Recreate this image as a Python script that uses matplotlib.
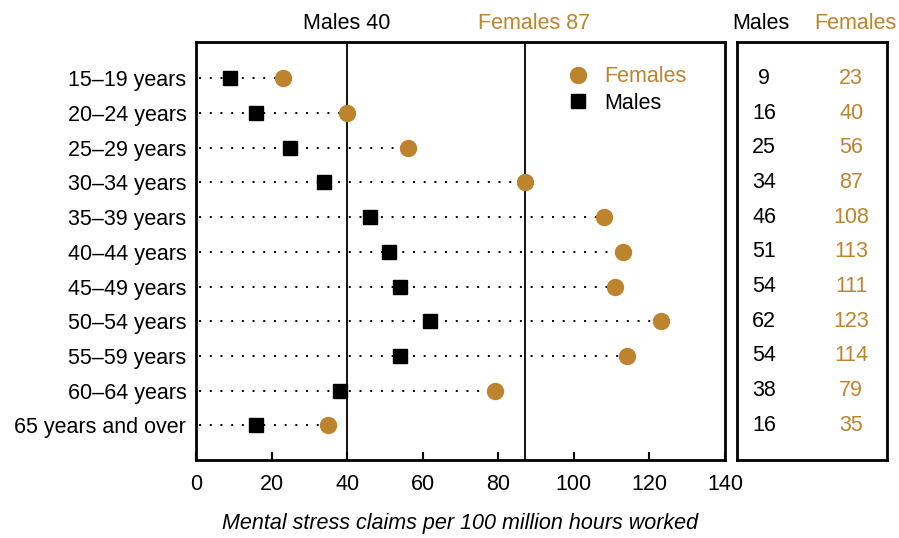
import matplotlib.pyplot as plt

plt.rcParams['font.family'] = ['Liberation Sans', 'DejaVu Sans']

# data
ages = ['15–19 years', '20–24 years', '25–29 years', '30–34 years', '35–39 years',
        '40–44 years', '45–49 years', '50–54 years', '55–59 years', '60–64 years',
        '65 years and over']
males = [9, 16, 25, 34, 46, 51, 54, 62, 54, 38, 16]
females = [23, 40, 56, 87, 108, 113, 111, 123, 114, 79, 35]
males_avg = 40
females_avg = 87

gold = '#BD832D'
fs = 15.5

fig = plt.figure(figsize=(8.99, 5.38), dpi=100)
ax = fig.add_axes([0.218, 0.145, 0.5885, 0.777])
tab = fig.add_axes([0.820, 0.145, 0.167, 0.777])

y = list(range(len(ages)))

# dotted guide lines from zero to the larger value
for i in y:
    ax.plot([0, max(males[i], females[i])], [i, i], color='black',
            linestyle=(3.9, (1, 4.5)), linewidth=1.4, zorder=1)

ax.axvline(males_avg, color='black', linewidth=1.3, zorder=1)
ax.axvline(females_avg, color='black', linewidth=1.3, zorder=1)

ax.plot(females, y, 'o', color=gold, markersize=11.5, linestyle='none',
        label='Females', zorder=3)
ax.plot(males, y, 's', color='black', markersize=10, linestyle='none',
        label='Males', zorder=4)

ax.set_xlim(0, 140)
ax.set_ylim(len(ages) - 1 + 1.0, -1.05)
ax.set_yticks(y)
ax.set_yticklabels(ages, fontsize=fs)
ax.tick_params(axis='y', length=0, pad=7)
ax.set_xticks(range(0, 141, 20))
ax.tick_params(axis='x', direction='in', length=6, width=1.5, labelsize=fs, pad=10)
ax.set_xlabel('Mental stress claims per 100 million hours worked', fontsize=fs,
              style='italic', labelpad=13)
for s in ax.spines.values():
    s.set_linewidth(2)

ax.text(males_avg, 1.018, 'Males 40', transform=ax.get_xaxis_transform(),
        ha='center', va='bottom', fontsize=fs)
ax.text(females_avg + 2.5, 1.018, 'Females 87', transform=ax.get_xaxis_transform(),
        ha='center', va='bottom', fontsize=fs, color=gold)

leg = ax.legend(loc='upper right', bbox_to_anchor=(0.955, 0.978), frameon=False,
                fontsize=fs, handletextpad=0.7, borderaxespad=0.3, labelspacing=0.25,
                handlelength=1.0)
for t in leg.get_texts():
    if t.get_text() == 'Females':
        t.set_color(gold)

# side table of values
tab.set_xlim(0, 1)
tab.set_ylim(ax.get_ylim())
tab.set_xticks([])
tab.set_yticks([])
for s in tab.spines.values():
    s.set_linewidth(2)
for i in y:
    tab.text(0.18, i, str(males[i]), ha='center', va='center', fontsize=fs)
    tab.text(0.76, i, str(females[i]), ha='center', va='center', fontsize=fs, color=gold)
tab.text(0.155, 1.018, 'Males', transform=tab.transAxes, ha='center', va='bottom', fontsize=fs)
tab.text(0.785, 1.018, 'Females', transform=tab.transAxes, ha='center', va='bottom',
         fontsize=fs, color=gold)

fig.savefig('out.png', dpi=100)
